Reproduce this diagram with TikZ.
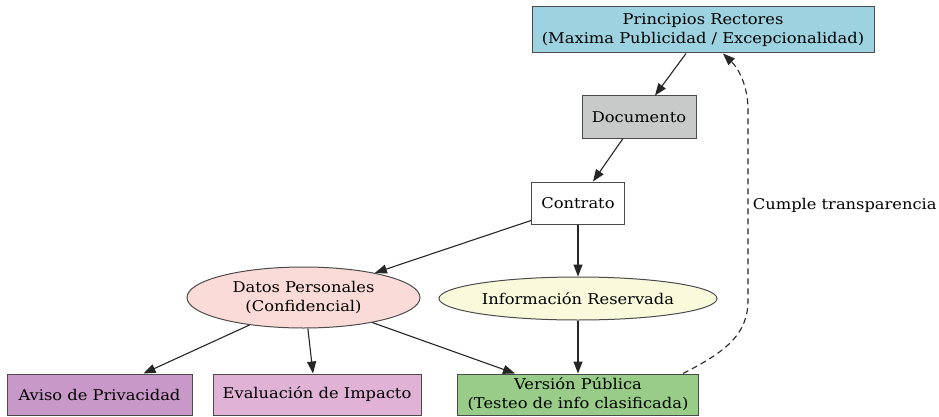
\documentclass[tikz,border=0pt]{standalone}
\usepackage{fontspec}
\setmainfont{DejaVu Serif}[FakeStretch=1.1]
\usetikzlibrary{arrows.meta,shapes.geometric}
\definecolor{cBlue}{RGB}{157,211,224}
\definecolor{cGray}{RGB}{200,201,201}
\definecolor{cRose}{RGB}{251,219,215}
\definecolor{cYellow}{RGB}{249,249,220}
\definecolor{cPlum}{RGB}{200,152,200}
\definecolor{cPlumLight}{RGB}{224,178,214}
\definecolor{cGreen}{RGB}{152,204,136}
\definecolor{cBorder}{RGB}{75,75,75}
\begin{document}
\begin{tikzpicture}[x=1pt,y=-1pt,
  lbl/.style={font=\fontsize{14.8}{18.7}\selectfont, align=center, text=black},
  boxnode/.style={lbl, draw=cBorder, line width=1pt, rectangle, inner sep=0pt},
  ellnode/.style={lbl, draw=cBorder, line width=1pt, ellipse, inner sep=0pt},
  edge/.style={draw=black!85, line width=1.1pt, -{Triangle[length=12pt,width=9pt]}}
]
\useasboundingbox[fill=white] (0,0) rectangle (939,417);

\node[boxnode, fill=cBlue, minimum width=342pt, minimum height=46pt] (pr) at (703,30)
  {Principios Rectores\\(Maxima Publicidad / Excepcionalidad)};
\node[boxnode, fill=cGray, minimum width=114pt, minimum height=42pt] (doc) at (639,117) {Documento};
\node[boxnode, fill=white, minimum width=93pt, minimum height=42pt] (con) at (578,203) {Contrato};
\node[ellnode, fill=cRose, minimum width=233pt, minimum height=61pt] (datos) at (303.5,297.5)
  {Datos Personales\\(Confidencial)};
\node[ellnode, fill=cYellow, minimum width=278pt, minimum height=43pt] (info) at (578,298.5)
  {Información Reservada};
\node[boxnode, fill=cPlum, minimum width=185pt, minimum height=41pt] (aviso) at (99.5,394.5) {Aviso de Privacidad};
\node[boxnode, fill=cPlumLight, minimum width=208pt, minimum height=41pt] (eval) at (317,394.5) {Evaluación de Impacto};
\node[boxnode, fill=cGreen, minimum width=241pt, minimum height=41pt] (ver) at (578,394.5)
  {Versión Pública\\(Testeo de info clasificada)};

\draw[edge] ([xshift=-17pt]pr.south) -- ([xshift=16pt]doc.north);
\draw[edge] ([xshift=-16pt]doc.south) -- ([xshift=15pt]con.north);
\draw[edge] ([yshift=4pt]con.south west) -- (datos.19);
\draw[edge] (con.south) -- (info.north);
\draw[edge] (datos.207) -- ([xshift=44pt]aviso.north);
\draw[edge] (datos.278) -- ([xshift=-4pt]eval.north);
\draw[edge] (datos.340) -- ([xshift=-63pt]ver.north);
\draw[edge] (info.south) -- (ver.north);
\coordinate (bendlow) at (748,300);
\coordinate (bendhigh) at (748,110);
\draw[edge, dash pattern=on 6pt off 4pt] ([xshift=105pt]ver.north)
  .. controls (725,352) and (748,335) .. (bendlow)
  -- node[lbl, anchor=west, pos=0.5, xshift=1pt] (lab) {Cumple transparencia} (bendhigh)
  .. controls (748,85) and (738,68) .. ([xshift=20pt]pr.south);
\end{tikzpicture}
\end{document}
